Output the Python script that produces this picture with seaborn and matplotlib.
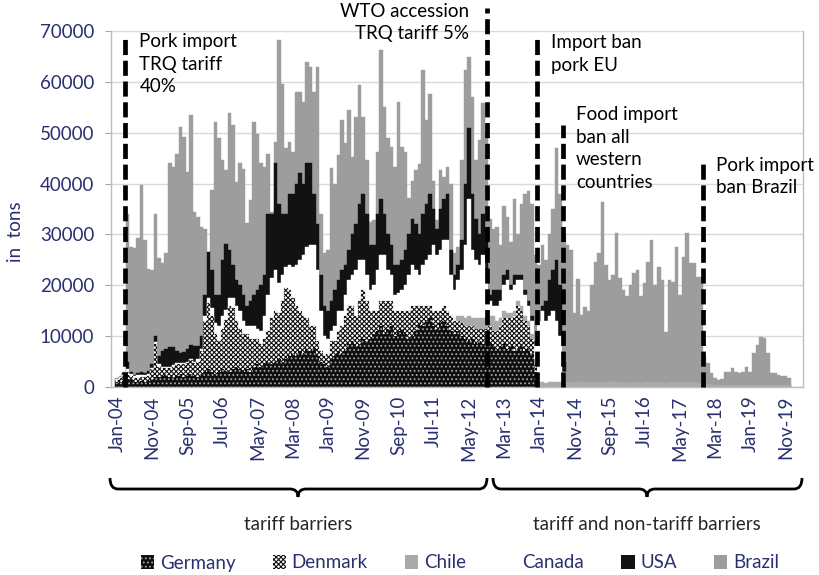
import matplotlib
matplotlib.use("Agg")
import numpy as np
import pandas as pd
import matplotlib.pyplot as plt
import seaborn as sns
from matplotlib.patches import Patch, PathPatch
from matplotlib.path import Path

# monthly pork imports in tons, Jan-04 .. Dec-19 (12 values per line = one year)
germany = [
    800, 1000, 1200, 1500, 1300, 1000, 900, 1200, 1000, 1100, 1500, 2000,
    2000, 2200, 2300, 2000, 1800, 2200, 2500, 2000, 2300, 2500, 2200, 2000,
    2500, 3000, 3500, 3000, 2500, 3000, 3500, 3200, 3000, 3500, 4000, 3500,
    3000, 3500, 3000, 4000, 4500, 4000, 4500, 5000, 4500, 5000, 5500, 5000,
    5500, 6000, 6500, 6000, 7000, 6500, 7500, 7000, 7500, 6000, 5000, 4500,
    4000, 5500, 6000, 7000, 6500, 7500, 8500, 9000, 8000, 8500, 9500, 9000,
    9500, 10500, 11000, 12000, 10500, 11500, 12000, 10000, 11000, 11500, 10500, 9500,
    10000, 11000, 12500, 12000, 13000, 13500, 12000, 11500, 12500, 13000, 12000, 11000,
    10500, 11000, 10000, 9500, 9000, 9500, 8500, 9000, 8500, 8000, 8500, 8000,
    7500, 8000, 8500, 7500, 8000, 7000, 7500, 8000, 7000, 7500, 6500, 3000,
] + [0] * 72

denmark = [
    500, 700, 900, 1500, 900, 700, 900, 700, 900, 1000, 2000, 6500,
    2000, 1500, 1500, 1800, 2200, 2300, 2000, 2500, 2500, 2800, 2500, 3000,
    4500, 10000, 13000, 11000, 8000, 6000, 8000, 10000, 13000, 12000, 9000, 8000,
    7500, 7000, 6500, 5500, 5000, 4500, 5000, 6000, 9000, 10000, 9000, 12000,
    14000, 13000, 11000, 10000, 8000, 7500, 6000, 5000, 4500, 3000, 2000, 1500,
    2500, 3500, 3000, 4000, 5500, 6500, 7500, 7000, 6000, 8500, 9500, 8000,
    5500, 4500, 4000, 5000, 6500, 5500, 5000, 5000, 4000, 3500, 4500, 5500,
    6000, 5000, 3500, 4000, 3000, 2500, 3000, 3500, 2500, 3000, 3000, 3000,
    2500, 2000, 2500, 2500, 3000, 2500, 3000, 2500, 3000, 3500, 3500, 3000,
    3500, 4000, 5000, 6000, 5500, 7000, 8500, 7000, 6000, 4500, 3000, 1500,
] + [0] * 72

chile = [0] * 96 + [
    0, 1000, 1500, 1500, 2000, 1500, 2000, 2000, 2000, 2000, 2000, 3000,
    2000, 1500, 1500, 1000, 1000, 1000, 1000, 1000, 1000, 1000, 1000, 1000,
    1000, 1000, 800, 1000, 1000, 1000, 1000, 1000, 1000, 1000, 1000, 1000,
    1200, 1000, 1000, 1200, 1000, 1000, 1000, 1000, 1000, 1200, 1000, 1000,
    1000, 800, 1000, 1000, 1000, 800, 1000, 1000, 1000, 1000, 1000, 1000,
    800, 1000, 1000, 1000, 1000, 1000, 1000, 1000, 1000, 800, 800, 500,
    500, 500, 300, 300, 300, 300, 300, 300, 300, 300, 300, 300,
    300, 300, 300, 300, 300, 300, 300, 300, 300, 300, 300, 300,
]

canada = [
    200, 300, 300, 500, 300, 400, 500, 400, 500, 400, 300, 300,
    500, 300, 200, 200, 300, 300, 200, 300, 200, 200, 300, 500,
    500, 1000, 1000, 1500, 2000, 3000, 2500, 2000, 1500, 2000, 3000, 3500,
    2500, 1500, 2500, 2500, 2000, 2500, 4500, 7000, 8000, 8000, 6000, 5000,
    4000, 5000, 6000, 8000, 10000, 12000, 14000, 16000, 16000, 14000, 8000, 4000,
    3000, 2000, 3000, 4000, 3000, 4000, 5000, 6000, 9000, 8000, 6000, 5000,
    4000, 5000, 8000, 9000, 9000, 6000, 5000, 3000, 3500, 4000, 5000, 7000,
    8000, 7000, 6000, 8000, 9000, 10000, 13000, 11000, 12000, 13000, 14000, 8000,
    6000, 7000, 9000, 14500, 23000, 13500, 11500, 10500, 12500, 9500, 3000, 2000,
    3000, 3500, 5000, 6500, 4500, 5000, 4000, 5000, 4000, 3000, 2500, 2500,
    12000, 14000, 12200, 13000, 14000, 12000, 9000, 2000, 0, 0, 0, 0,
] + [0] * 60

usa = [
    0, 0, 300, 1500, 500, 300, 400, 600, 400, 600, 800, 1200,
    1500, 3000, 3500, 3800, 3500, 2200, 2000, 2000, 2500, 2700, 3000, 2500,
    2500, 4000, 9100, 7500, 5500, 6000, 11000, 13000, 9500, 6500, 5000, 5000,
    5000, 4000, 5000, 6000, 7500, 9000, 8000, 16000, 12500, 21000, 15500, 12000,
    10500, 14000, 14500, 16000, 17000, 14000, 16500, 16000, 10000, 9000, 7000, 6000,
    5500, 6000, 7000, 6000, 8000, 6000, 6000, 8000, 9000, 11000, 13000, 12000,
    9000, 8000, 11000, 11000, 8000, 7000, 6000, 6000, 5500, 6000, 7000, 8000,
    9000, 9000, 8000, 10000, 11000, 12000, 7000, 5000, 8000, 8000, 9000, 5000,
    3000, 3000, 6000, 12000, 14000, 11000, 8000, 6000, 8000, 8000, 1000, 3000,
    3000, 2000, 2000, 2000, 1000, 2000, 1000, 1000, 1000, 1000, 1000, 1000,
    0, 1000, 4000, 7000, 8000, 12000, 10000, 2000, 0, 0, 0, 0,
] + [0] * 60

brazil = [
    200, 200, 300, 29000, 24600, 24900, 26500, 36800, 26100, 20200, 18400, 24100,
    19300, 17300, 18800, 36200, 35500, 38900, 44500, 42400, 34800, 45200, 26400, 25500,
    21500, 13000, 0, 15700, 34100, 30900, 19600, 14400, 26800, 27500, 19300, 24000,
    24900, 16200, 19700, 34100, 30800, 24000, 21300, 11900, 400, 4200, 32200, 25600,
    13000, 10200, 8200, 18000, 16000, 16100, 19900, 18900, 20000, 30900, 12100, 10300,
    11900, 26000, 21000, 24600, 29500, 23900, 27400, 15200, 21100, 23300, 15100, 10600,
    4500, 4800, 12200, 29200, 21100, 18900, 19200, 19300, 32100, 22200, 19200, 7100,
    7600, 10600, 13900, 28300, 16500, 19700, 5600, 1800, 7600, 4300, 5300, 13000,
    4300, 3600, 15600, 22300, 13800, 19000, 11600, 18600, 21800, 19000, 15000, 12000,
    12500, 9000, 13500, 10500, 8500, 15000, 8000, 14000, 19000, 21500, 22000, 17000,
    11000, 12000, 8000, 9000, 12000, 22000, 18000, 25000, 27000, 26000, 13500, 20300,
    12900, 14800, 14000, 18800, 23600, 25300, 35400, 23000, 20000, 20800, 29200, 20500,
    18100, 17000, 19000, 21500, 22000, 17000, 19500, 23500, 28000, 19000, 22500, 20000,
    10100, 20000, 19700, 26600, 17000, 24600, 29200, 23300, 23300, 20900, 20900, 5500,
    4200, 2200, 1400, 1100, 1200, 2700, 2700, 3400, 2700, 2400, 2700, 3700,
    2700, 6300, 8000, 9600, 9300, 6300, 2400, 2400, 2100, 1900, 1900, 1400,
]

countries = ["Germany", "Denmark", "Chile", "Canada", "USA", "Brazil"]
months = pd.date_range("2004-01-01", periods=len(brazil), freq="MS").strftime("%b-%y").tolist()

df = pd.DataFrame({"Germany": germany, "Denmark": denmark, "Chile": chile,
                   "Canada": canada, "USA": usa, "Brazil": brazil})
df["pos"] = np.arange(len(df))
stacked = df[countries].cumsum(axis=1)

NAVY = "#2a2f6e"
styles = {
    "Germany": dict(color="#0f0f0f", hatch="....", edgecolor="#a8a8a8", linewidth=0),
    "Denmark": dict(color="white", hatch="x" * 7, edgecolor="#101010", linewidth=0),
    "Chile": dict(color="#aaaaaa", edgecolor="#aaaaaa", linewidth=0.3),
    "Canada": dict(color="white", edgecolor="white", linewidth=0.3),
    "USA": dict(color="#121212", edgecolor="#121212", linewidth=0.3),
    "Brazil": dict(color="#9d9d9d", edgecolor="#9d9d9d", linewidth=0.3),
}

sns.set_style("white")
plt.rcParams["font.family"] = ["Lato", "DejaVu Sans"]
plt.rcParams["hatch.linewidth"] = 0.8

fig = plt.figure(figsize=(8.2, 5.75), dpi=100)
ax = fig.add_axes([111 / 820, 1 - 387 / 575, 692 / 820, 356 / 575])

# draw the cumulative totals from the top layer down, so each layer covers the one above it
for name in reversed(countries):
    sns.barplot(x=df["pos"], y=stacked[name], width=1.0, errorbar=None,
                saturation=1, ax=ax, zorder=2, **styles[name])

ax.set_xlim(-1.7, 195)
ax.set_ylim(0, 70000)
ax.set_yticks(range(0, 70001, 10000))
ax.yaxis.grid(True, color="#d9d9d9", linewidth=1)
ax.set_axisbelow(True)
ax.set_xticks(range(0, len(months), 10))
ax.set_xticklabels(months[::10], rotation=90)
ax.set_xticks(np.arange(-1.2, 195, 10), minor=True)
ax.tick_params(axis="x", which="major", length=0, pad=6, labelsize=13.5, labelcolor=NAVY)
ax.tick_params(axis="x", which="minor", length=5, color="#a6a6a6", width=1, direction="out")
ax.tick_params(axis="y", length=4, color="#a6a6a6", pad=8, labelsize=13.5, labelcolor=NAVY,
               direction="out", left=True)
ax.set_xlabel("")
ax.set_ylabel("")
for side in ["left", "bottom", "right"]:
    ax.spines[side].set_color("#bdbdbd")
    ax.spines[side].set_linewidth(1)
ax.spines["top"].set_visible(False)

fig.text(16 / 820, 1 - 232 / 575, "in  tons", rotation=90, ha="center", va="center",
         fontsize=13.5, color=NAVY)

# policy events: dashed markers and notes
dash = (0, (3.2, 1.2))
for xpos, top in [(2.4, 69500), (105.2, 74500), (119.3, 69000), (126.8, 51500), (166.6, 44000)]:
    ax.plot([xpos, xpos], [0, top], color="black", lw=3.4, linestyle=dash,
            clip_on=False, zorder=5, dash_capstyle="butt")

note = dict(fontsize=13.5, color="black", va="top", linespacing=1.4, zorder=6)
ax.text(6.4, 69600, "Pork import\nTRQ tariff\n40%", ha="left", **note)
ax.text(100.0, 75600, "WTO accession\nTRQ tariff 5%", ha="right", **note)
ax.text(123.4, 69400, "Import ban\npork EU", ha="left", **note)
ax.text(130.5, 55200, "Food import\nban all\nwestern\ncountries", ha="left", **note)
ax.text(170.3, 45300, "Pork import\nban Brazil", ha="left", **note)


def brace(x0, x1, xc, y_top=478, y_mid=489, y_tip=497, r=8):
    pts = [(x0, y_top), (x0, y_mid), (x0 + r, y_mid),
           (xc - r, y_mid), (xc, y_mid), (xc, y_tip),
           (xc, y_mid), (xc + r, y_mid),
           (x1 - r, y_mid), (x1, y_mid), (x1, y_top)]
    codes = [Path.MOVETO, Path.CURVE3, Path.CURVE3, Path.LINETO, Path.CURVE3, Path.CURVE3,
             Path.CURVE3, Path.CURVE3, Path.LINETO, Path.CURVE3, Path.CURVE3]
    verts = [(x / 820, 1 - y / 575) for x, y in pts]
    fig.add_artist(PathPatch(Path(verts, codes), transform=fig.transFigure,
                             fill=False, lw=2, edgecolor="black"))


brace(110, 487, 298)
brace(493, 802, 647)
fig.text(298 / 820, 1 - 524 / 575, "tariff barriers", ha="center", va="center", fontsize=13.5)
fig.text(647 / 820, 1 - 524 / 575, "tariff and non-tariff barriers", ha="center", va="center",
         fontsize=13.5)

handles = [Patch(facecolor=styles[c]["color"], edgecolor=styles[c]["edgecolor"],
                 hatch=styles[c].get("hatch"), linewidth=0) for c in countries]
fig.legend(handles, countries, loc="center", bbox_to_anchor=(460 / 820, 1 - 563 / 575),
           ncol=6, frameon=False, fontsize=13.5, labelcolor=NAVY, handlelength=0.7,
           handleheight=0.7, handletextpad=0.3, columnspacing=2.0)

fig.savefig("out.png", dpi=100)
